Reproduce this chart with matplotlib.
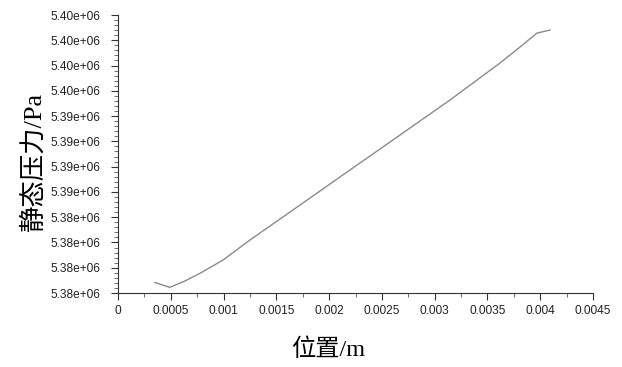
import matplotlib
matplotlib.use("Agg")
import matplotlib.pyplot as plt
from matplotlib.ticker import FormatStrFormatter, AutoMinorLocator

# Data
position_m = [0.00035, 0.00049, 0.000635, 0.000777, 0.000995, 0.00125, 0.001724,
              0.002198, 0.002672, 0.003145, 0.003619, 0.003808, 0.003969, 0.004093]
static_pressure_pa = [5377040, 5376560, 5377190, 5377950, 5379260, 5381240, 5384700,
                      5388170, 5391630, 5395090, 5398750, 5400330, 5401710, 5402010]

x_ticks = [0, 0.0005, 0.001, 0.0015, 0.002, 0.0025, 0.003, 0.0035, 0.004, 0.0045]
x_tick_labels = ["0", "0.0005", "0.001", "0.0015", "0.002", "0.0025", "0.003",
                 "0.0035", "0.004", "0.0045"]
y_ticks = [5376000 + 2500 * k for k in range(12)]

x_label = "位置/m"
y_label = "静态压力/Pa"

fig = plt.figure(figsize=(6.22, 3.67), dpi=100)
ax = fig.add_axes([118 / 622, 1 - 293 / 367, (593 - 118) / 622, (293 - 15) / 367])

ax.plot(position_m, static_pressure_pa, color="#8a8a8a", linewidth=1.0)

ax.set_xlim(0, 0.0045)
ax.set_ylim(y_ticks[0], y_ticks[-1])
ax.set_xticks(x_ticks)
ax.set_xticklabels(x_tick_labels)
ax.set_yticks(y_ticks)
ax.yaxis.set_major_formatter(FormatStrFormatter("%.2e"))
ax.xaxis.set_minor_locator(AutoMinorLocator(2))
ax.yaxis.set_minor_locator(AutoMinorLocator(5))

for s in ["top", "right"]:
    ax.spines[s].set_visible(False)
for s in ["left", "bottom"]:
    ax.spines[s].set_color("#333333")
    ax.spines[s].set_linewidth(0.8)

tick_font = ["Liberation Sans", "DejaVu Sans"]
ax.tick_params(axis="both", which="major", length=5, width=0.8, color="#333333",
               labelsize=8.6, labelcolor="#222222")
ax.tick_params(axis="y", which="major", pad=8)
ax.tick_params(axis="x", which="major", pad=4)
ax.tick_params(axis="both", which="minor", length=3, width=0.6, color="#555555")
for lab in ax.get_xticklabels() + ax.get_yticklabels():
    lab.set_family(tick_font)

label_font = ["Liberation Serif", "Noto Sans CJK SC"]
ax.set_xlabel(x_label, family=label_font, fontsize=17.5, va="center", ha="center")
ax.set_ylabel(y_label, family=label_font, fontsize=19, va="center", ha="center")
ax.xaxis.set_label_coords((328 - 118) / 475, (293 - 350) / 278)
ax.yaxis.set_label_coords((33 - 118) / 475, (293 - 161) / 278)

fig.savefig("out.png", dpi=100)
